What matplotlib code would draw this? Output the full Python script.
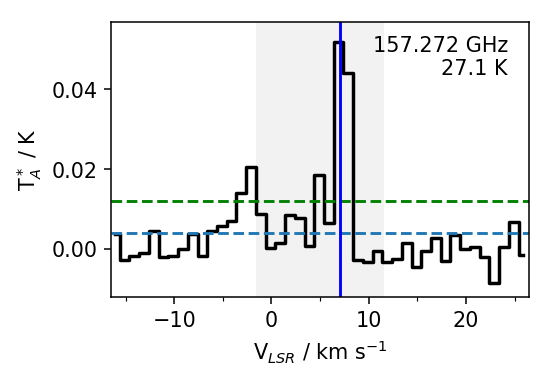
import numpy as np
import matplotlib
matplotlib.use("Agg")
import matplotlib.pyplot as plt
from matplotlib.ticker import MultipleLocator

plt.rcParams['font.size'] = 10.8

# Channel velocities (km/s), channel centres
velocity = np.arange(43) * 1.0 - 16.1
# Antenna temperature (K)
t_a = [0.0037, -0.0028, -0.0018, -0.0011, 0.0045, -0.0020, -0.0018, 0.0000,
       0.0037, -0.0018, 0.0045, 0.0057, 0.0069, 0.0140, 0.0205, 0.0088,
       0.0003, 0.0015, 0.0086, 0.0077, 0.0008, 0.0185, 0.0064, 0.0518,
       0.0440, -0.0028, -0.0033, -0.0005, -0.0032, -0.0025, 0.0015, -0.0045,
       -0.0006, 0.0028, -0.0029, 0.0036, 0.0000, 0.0005, -0.0019, -0.0084,
       0.0005, 0.0067, -0.0014]

v_line = 7.0
window = (-1.6, 11.55)
rms_level = 0.004
thresh_level = 0.012
freq_label = "157.272 GHz"
eup_label = "27.1 K"

fig = plt.figure(figsize=(4, 2.75), dpi=138)
ax = fig.add_axes([0.201, 0.2164, 0.757, 0.7256])

ax.axvspan(window[0], window[1], color='grey', alpha=0.1, lw=0)
ax.step(velocity, t_a, where='mid', color='black', lw=1.8)
ax.axhline(thresh_level, color='green', ls='--', lw=1.5)
ax.axhline(rms_level, color='#1f77b4', ls='--', lw=1.5)
ax.axvline(v_line, color='blue', lw=1.5)

ax.set_xlim(-16.5, 26.45)
ax.set_ylim(-0.012, 0.057)
ax.xaxis.set_minor_locator(MultipleLocator(5))
ax.set_xticks([-10, 0, 10, 20])
ax.set_yticks([0.0, 0.02, 0.04])

ax.set_xlabel(r"V$_{LSR}$ / km s$^{-1}$")
ax.set_ylabel(r"T$_A^*$ / K")
ax.text(0.95, 0.95, freq_label + "\n" + eup_label, transform=ax.transAxes,
        ha='right', va='top', multialignment='right')

fig.savefig("out.png", dpi=138)
